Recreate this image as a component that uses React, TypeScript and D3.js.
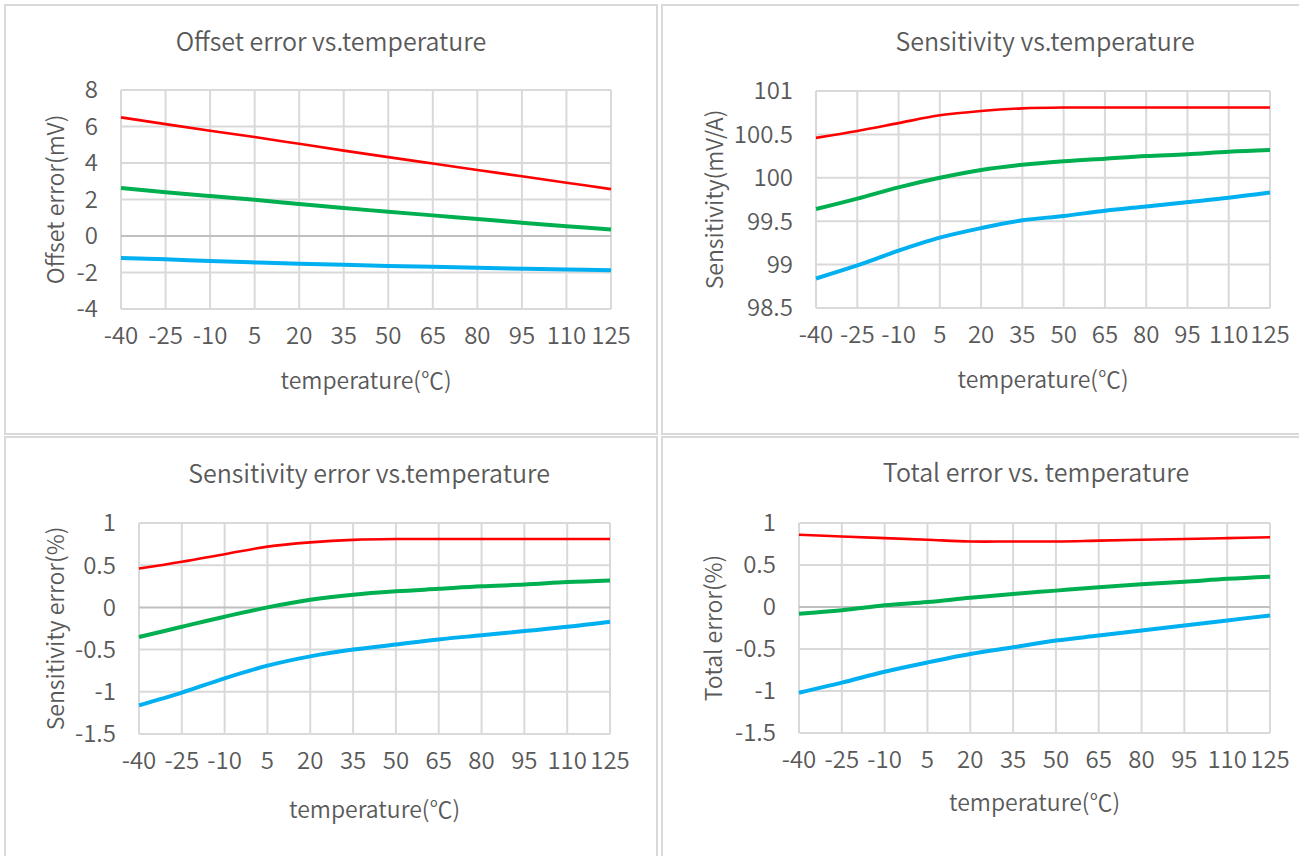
import React from "react";
import * as d3 from "d3";

const temps = ["-40", "-25", "-10", "5", "20", "35", "50", "65", "80", "95", "110", "125"];

// Offset error (mV)
const offsetMax = [6.5, 6.13, 5.77, 5.42, 5.05, 4.68, 4.32, 3.97, 3.62, 3.27, 2.92, 2.57];
const offsetTyp = [2.63, 2.4, 2.19, 1.99, 1.75, 1.53, 1.33, 1.13, 0.93, 0.73, 0.54, 0.35];
const offsetMin = [-1.2, -1.28, -1.37, -1.45, -1.52, -1.58, -1.64, -1.69, -1.74, -1.79, -1.83, -1.87];

// Sensitivity (mV/A)
const sensMax = [100.46, 100.54, 100.63, 100.72, 100.77, 100.8, 100.81, 100.81, 100.81, 100.81, 100.81, 100.81];
const sensTyp = [99.64, 99.76, 99.89, 100.0, 100.09, 100.15, 100.19, 100.22, 100.25, 100.27, 100.3, 100.32];
const sensMin = [98.84, 98.99, 99.16, 99.31, 99.42, 99.51, 99.56, 99.62, 99.67, 99.72, 99.77, 99.83];

// Sensitivity error (%)
const sensErrMax = [0.46, 0.54, 0.63, 0.72, 0.77, 0.8, 0.81, 0.81, 0.81, 0.81, 0.81, 0.81];
const sensErrTyp = [-0.35, -0.23, -0.11, 0.0, 0.09, 0.15, 0.19, 0.22, 0.25, 0.27, 0.3, 0.32];
const sensErrMin = [-1.16, -1.01, -0.84, -0.69, -0.58, -0.5, -0.44, -0.38, -0.33, -0.28, -0.23, -0.17];

// Total error (%)
const totalMax = [0.86, 0.84, 0.82, 0.8, 0.78, 0.78, 0.78, 0.79, 0.8, 0.81, 0.82, 0.83];
const totalTyp = [-0.08, -0.04, 0.02, 0.06, 0.11, 0.155, 0.195, 0.235, 0.27, 0.3, 0.335, 0.36];
const totalMin = [-1.02, -0.9, -0.77, -0.66, -0.56, -0.48, -0.4, -0.34, -0.28, -0.22, -0.16, -0.1];

const titles = [
  "Offset error vs.temperature",
  "Sensitivity vs.temperature",
  "Sensitivity error vs.temperature",
  "Total error vs. temperature",
];
const yTitles = ["Offset error(mV)", "Sensitivity(mV/A)", "Sensitivity error(%)", "Total error(%)"];
const xTitle = "temperature(℃)";
const yDomains: [number, number, number][] = [
  [-4, 8, 2],
  [98.5, 101, 0.5],
  [-1.5, 1, 0.5],
  [-1.5, 1, 0.5],
];
const seriesSets = [
  [offsetMin, offsetTyp, offsetMax],
  [sensMin, sensTyp, sensMax],
  [sensErrMin, sensErrTyp, sensErrMax],
  [totalMin, totalTyp, totalMax],
];

const COLORS = ["#00b0f0", "#00b050", "#ff0000"];
const WIDTHS = [4, 4, 2.6];
const TEXT = "#595959";
const GRID = "#d9d9d9";
const FONT = "'Noto Sans CJK SC', 'Noto Sans', sans-serif";
const WEIGHT = 350;

const layout = [
  { box: [5, 5, 652, 429], plot: [121, 611, 90, 309], titleX: 331, titleY: 51, xTitleY: 389, yTitleX: 56 },
  { box: [662, 5, 700, 429], plot: [816, 1270, 91, 308], titleX: 1045, titleY: 51, xTitleY: 388, yTitleX: 715 },
  { box: [5, 437, 652, 440], plot: [139, 610, 523, 734], titleX: 369, titleY: 483, xTitleY: 818, yTitleX: 56 },
  { box: [662, 437, 700, 440], plot: [799, 1270, 523, 733], titleX: 1036, titleY: 482, xTitleY: 811, yTitleX: 714 },
];

function Panel({ i }: { i: number }) {
  const L = layout[i];
  const [left, right, top, bottom] = L.plot;
  const [yMin, yMax, step] = yDomains[i];
  const x = d3.scalePoint<string>().domain(temps).range([left, right]);
  const y = d3.scaleLinear().domain([yMin, yMax]).range([bottom, top]);
  const ticks = d3.range(yMin, yMax + step / 2, step).map((v) => Math.round(v * 10) / 10);
  const line = d3
    .line<number>()
    .x((_, k) => x(temps[k]) as number)
    .y((d) => y(d))
    .curve(d3.curveCatmullRom.alpha(0.5));
  const [bx, by, bw, bh] = L.box;
  return (
    <g fontFamily={FONT} fontWeight={WEIGHT} fill={TEXT}>
      <rect x={bx} y={by} width={bw} height={bh} fill="#fff" stroke={GRID} strokeWidth={2} />
      <text x={L.titleX} y={L.titleY} textAnchor="middle" fontSize={25}>
        {titles[i]}
      </text>
      {temps.map((t) => (
        <line key={"v" + t} x1={x(t)} x2={x(t)} y1={top} y2={bottom} stroke={GRID} strokeWidth={2} />
      ))}
      {ticks.map((v) => (
        <line
          key={"h" + v}
          x1={left}
          x2={right}
          y1={y(v)}
          y2={y(v)}
          stroke={v === 0 ? "#bfbfbf" : GRID}
          strokeWidth={2}
        />
      ))}
      {ticks.map((v) => (
        <text key={"yl" + v} x={left - 23} y={y(v)} dy="0.35em" textAnchor="end" fontSize={24}>
          {String(v)}
        </text>
      ))}
      {temps.map((t) => (
        <text key={"xl" + t} x={x(t)} y={bottom + 35} textAnchor="middle" fontSize={24}>
          {t}
        </text>
      ))}
      <text x={(left + right) / 2} y={L.xTitleY} textAnchor="middle" fontSize={23}>
        {xTitle}
      </text>
      <text
        transform={`translate(${L.yTitleX},${(top + bottom) / 2}) rotate(-90)`}
        dy="0.35em"
        textAnchor="middle"
        fontSize={23}
      >
        {yTitles[i]}
      </text>
      {seriesSets[i].map((s, k) => (
        <path
          key={"s" + k}
          d={line(s) || ""}
          fill="none"
          stroke={COLORS[k]}
          strokeWidth={WIDTHS[k]}
          strokeLinejoin="round"
        />
      ))}
    </g>
  );
}

export default function App() {
  return (
    <svg
      width={1299}
      height={856}
      style={{ position: "absolute", left: 0, top: 0, background: "#fff" }}
    >
      <rect x={0} y={0} width={1299} height={856} fill="#fff" />
      {[0, 1, 2, 3].map((i) => (
        <Panel key={i} i={i} />
      ))}
    </svg>
  );
}
